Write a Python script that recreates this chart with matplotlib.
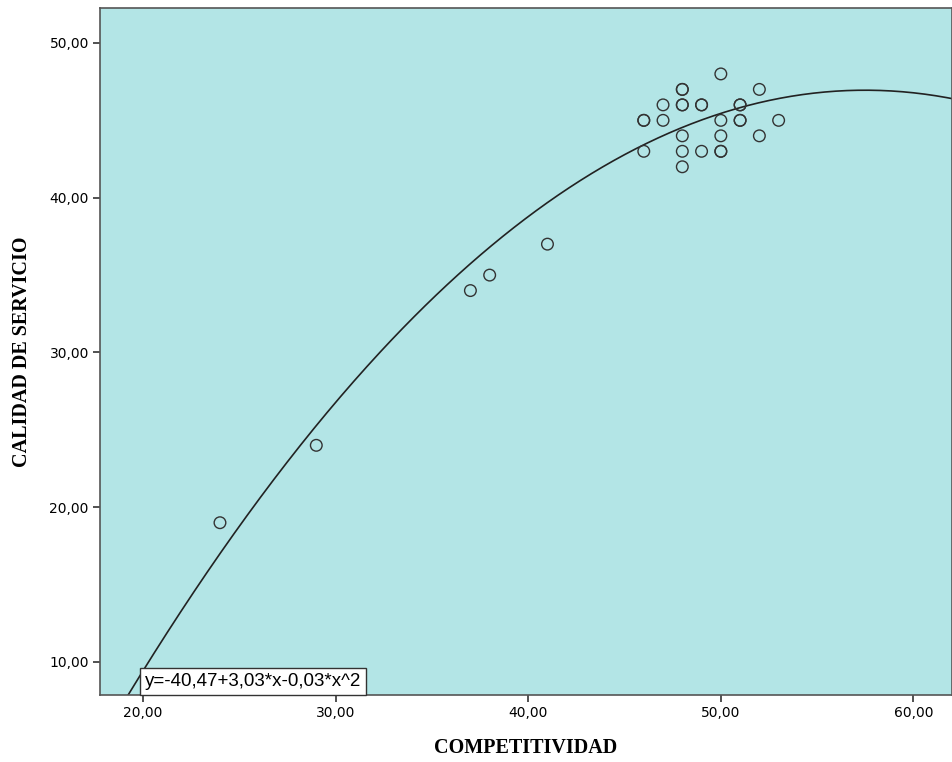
import matplotlib
matplotlib.use("Agg")
import matplotlib.pyplot as plt
import numpy as np

# competitividad vs calidad de servicio (duplicates kept where circles look bold)
competitividad = [24, 29, 37, 38, 41,
                  50,
                  48, 48, 52,
                  47, 48, 48, 49, 49, 51, 51,
                  46, 46, 47, 50, 51, 51, 53,
                  48, 50, 52,
                  46, 48, 49, 50, 50,
                  48]
calidad = [19, 24, 34, 35, 37,
           48,
           47, 47, 47,
           46, 46, 46, 46, 46, 46, 46,
           45, 45, 45, 45, 45, 45, 45,
           44, 44, 44,
           43, 43, 43, 43, 43,
           42]

# quadratic fit (vertex ~57.5, 46.95)
coef = [-0.0267, 3.07, -41.3]
fit_label = "y=-40,47+3,03*x-0,03*x^2"

x_ticks = [20, 30, 40, 50, 60]
y_ticks = [10, 20, 30, 40, 50]

fig = plt.figure(figsize=(9.52, 7.62), dpi=100)
ax = fig.add_axes([0.105, 0.088, 0.895, 0.9015])
ax.set_facecolor("#b3e5e6")

ax.scatter(competitividad, calidad, s=70, facecolors="none",
           edgecolors="#333333", linewidths=1.0, zorder=3)

xs = np.linspace(17, 63, 400)
ax.plot(xs, np.polyval(coef, xs), color="#222222", lw=1.2, zorder=2)

ax.set_xlim(17.77, 62.0)
ax.set_ylim(7.87, 52.26)
ax.set_xticks(x_ticks)
ax.set_yticks(y_ticks)
ax.set_xticklabels([f"{v},00" for v in x_ticks], fontsize=10, family="DejaVu Sans")
ax.set_yticklabels([f"{v},00" for v in y_ticks], fontsize=10, family="DejaVu Sans")
ax.tick_params(direction="out", length=5, width=1.2, color="#333333", pad=3)
for s in ax.spines.values():
    s.set_color("#555555")
    s.set_linewidth(1.2)

ax.set_xlabel("COMPETITIVIDAD", fontsize=14.5, fontweight="bold",
              family="Liberation Serif")
ax.set_ylabel("CALIDAD DE SERVICIO", fontsize=14.5, fontweight="bold",
              family="Liberation Serif")
ax.xaxis.set_label_coords(0.5, -0.077)
ax.yaxis.set_label_coords(-0.0915, 0.5)
ax.xaxis.label.set_va("center")
ax.yaxis.label.set_va("center")

ax.text(0.0525, 0.007, fit_label, transform=ax.transAxes, fontsize=13.5,
        family="Liberation Sans", va="bottom", ha="left", zorder=5,
        bbox=dict(facecolor="white", edgecolor="#333333", boxstyle="square,pad=0.25"))

fig.savefig("out.png", dpi=100)
